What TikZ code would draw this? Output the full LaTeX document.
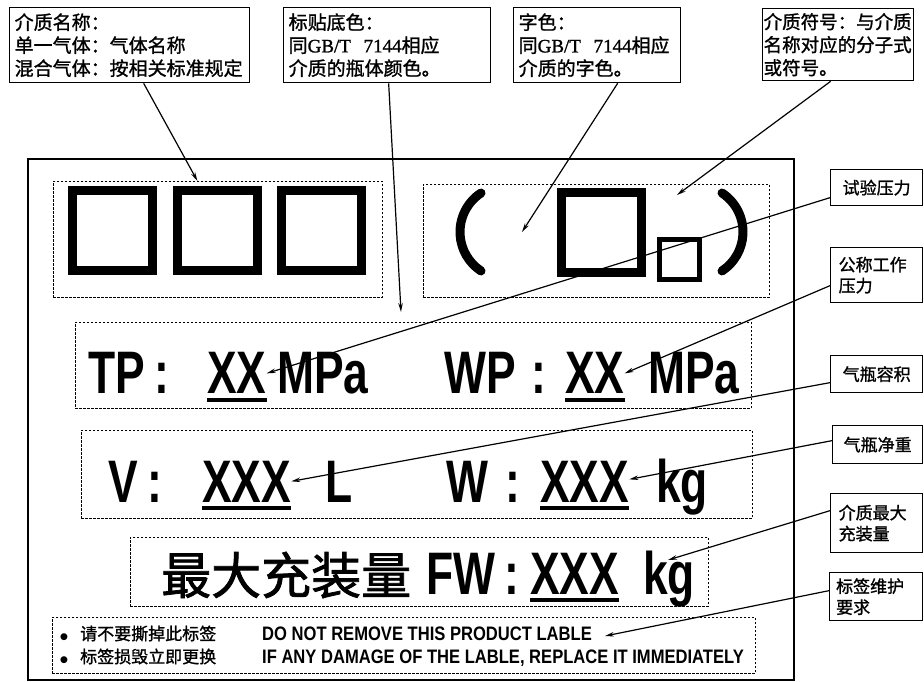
\documentclass[tikz,border=0pt]{standalone}
\usepackage{fontspec}
\setmainfont{Liberation Serif}
\newfontfamily\cjk{Noto Sans CJK SC}
\newfontfamily\cjkb[FakeBold=1.2]{Noto Sans CJK SC}
\newfontfamily\cjkbig[FakeBold=1.5]{Noto Sans CJK SC}
\newfontfamily\serifb[FakeBold=1.2]{Liberation Serif}
\newfontfamily\dejavu{DejaVu Sans}
\newfontfamily\narrow[FakeStretch=0.74]{Liberation Sans}
\newfontfamily\narrowB[FakeStretch=0.85]{Liberation Sans}
\usetikzlibrary{arrows.meta}
\tikzset{
  callout/.style={draw, line width=1.3pt, inner sep=0pt, anchor=north west, font=\cjkb\fontsize{19}{23}\selectfont, align=left},
  rcallout/.style={draw, line width=1.3pt, inner sep=0pt, anchor=north west, font=\cjkb\fontsize{17}{21}\selectfont, align=left},
  dbox/.style={draw, line width=0.9pt, dash pattern=on 2.5pt off 1.5pt, inner sep=0pt, anchor=north west},
  thicksq/.style={draw, line width=9pt, inner sep=0pt, minimum width=80pt, minimum height=80pt},
  thinsq/.style={draw, line width=5pt, inner sep=0pt, minimum width=40pt, minimum height=40pt},
  paren/.style={line width=9pt, line cap=round},
  big/.style={inner sep=0pt, anchor=base west, font=\narrow\bfseries\fontsize{60}{60}\selectfont},
  bigc/.style={inner sep=0pt, anchor=base, font=\narrow\bfseries\fontsize{60}{60}\selectfont},
  uline/.style={line width=4pt},
  small/.style={inner sep=0pt, anchor=base west, font=\cjkb\fontsize{17}{17}\selectfont},
  bul/.style={inner sep=0pt, anchor=base west, font=\dejavu\fontsize{9}{9}\selectfont},
  eng/.style={inner sep=0pt, anchor=base west, font=\narrowB\bfseries\fontsize{19.5}{19.5}\selectfont},
  arr/.style={line width=1.2pt, -{Stealth[length=9pt, width=4.5pt]}}
}
\begin{document}
\begin{tikzpicture}[x=1pt, y=-1pt]
\useasboundingbox (0,0) rectangle (924,681);

% outer label frame
\node[draw, line width=1.5pt, inner sep=0pt, minimum width=766pt, minimum height=521pt, anchor=north west] (frame) at (27,158) {};

% top callouts
\node[callout, minimum width=240pt, minimum height=75pt, text width=230pt] (c1) at (9,7)
  {介质名称：\\单一气体：气体名称\\混合气体：按相关标准规定};
\node[callout, minimum width=207pt, minimum height=75pt, text width=197pt] (c2) at (283,7)
  {标贴底色：\\同{\serifb GB/T\ \ 7144}相应\\介质的瓶体颜色。};
\node[callout, minimum width=167pt, minimum height=75pt, text width=157pt] (c3) at (513,7)
  {字色：\\同{\serifb GB/T\ \ 7144}相应\\介质的字色。};
\node[callout, minimum width=151pt, minimum height=72pt, text width=149pt, font=\cjkb\fontsize{18.5}{23}\selectfont] (c4) at (762,8)
  {介质符号：与介质\\名称对应的分子式\\或符号。};

% right callouts
\node[rcallout, minimum width=92pt, minimum height=36pt, align=center] (r1) at (830,169) {试验压力};
\node[rcallout, minimum width=92pt, minimum height=55pt, text width=76pt] (r2) at (830,247) {公称工作\\压力};
\node[rcallout, minimum width=92pt, minimum height=37pt, align=center] (r3) at (830,355) {气瓶容积};
\node[rcallout, minimum width=90pt, minimum height=38pt, align=center] (r4) at (832,425) {气瓶净重};
\node[rcallout, minimum width=92pt, minimum height=59pt, text width=76pt] (r5) at (830,493) {介质最大\\充装量};
\node[rcallout, minimum width=93pt, minimum height=48pt, text width=80pt] (r6) at (829,572) {标签维护\\要求};

% dashed boxes
\node[dbox, minimum width=329pt, minimum height=116pt] (d1) at (53,181) {};
\node[dbox, minimum width=346pt, minimum height=113pt] (d2) at (423,184) {};
\node[dbox, minimum width=676pt, minimum height=86pt] (d3) at (75,322) {};
\node[dbox, minimum width=671pt, minimum height=88pt] (d4) at (81,430) {};
\node[dbox, minimum width=578pt, minimum height=69pt] (d5) at (130,537) {};
\node[dbox, minimum width=703pt, minimum height=56pt] (d6) at (52,617) {};

% name squares
\node[thicksq] (s1) at (112,230) {};
\node[thicksq] (s2) at (217,230) {};
\node[thicksq] (s3) at (321,230) {};

% symbol
\draw[paren] (481,193) arc[start angle=236.6, end angle=123.4, radius=46.7];
\node[thicksq] (s4) at (601,232.5) {};
\node[thinsq] (s5) at (679.5,259) {};
\draw[paren] (722,193) arc[start angle=-56.6, end angle=56.6, radius=46.7];

% TP row
\node[big] (tp) at (88,393) {TP};
\node[bigc] (k1) at (162,393) {:};
\node[big] (xx1) at (207,393) {XX};
\node[big] (mpa1) at (277,393) {MPa};
\node[big] (wp) at (444,393) {WP};
\node[bigc] (k2) at (539,393) {:};
\node[big] (xx2) at (565,393) {XX};
\node[big] (mpa2) at (648,393) {MPa};
\draw[uline] ([yshift=-7pt]xx1.base west) -- ([yshift=-7pt]xx1.base east);
\draw[uline] ([yshift=-7pt]xx2.base west) -- ([yshift=-7pt]xx2.base east);

% V row
\node[big] (v) at (108,502) {V};
\node[bigc] (k3) at (155,502) {:};
\node[big] (xxx1) at (202,502) {XXX};
\node[big] (l) at (325,502) {L};
\node[big] (w) at (446,502) {W};
\node[bigc] (k4) at (513,502) {:};
\node[big] (xxx2) at (540,502) {XXX};
\node[big] (kg1) at (656,502) {kg};
\draw[uline] ([yshift=-6pt]xxx1.base west) -- ([yshift=-6pt]xxx1.base east);
\draw[uline] ([yshift=-6pt]xxx2.base west) -- ([yshift=-6pt]xxx2.base east);

% FW row
\node[inner sep=0pt, anchor=base west, font=\cjkbig\fontsize{50}{50}\selectfont] (fwc) at (161,594) {最大充装量};
\node[big] (fw) at (426,594) {FW};
\node[bigc] (k5) at (512,594) {:};
\node[big] (xxx3) at (530,594) {XXX};
\node[big] (kg2) at (643,594) {kg};
\draw[uline] ([yshift=-6pt]xxx3.base west) -- ([yshift=-6pt]xxx3.base east);

% bottom notes
\node[bul] (b1) at (60,639) {●};
\node[small] (n1) at (80,640) {请不要撕掉此标签};
\node[eng] (e1) at (262,640) {DO NOT REMOVE THIS PRODUCT LABLE};
\node[bul] (b2) at (60,662) {●};
\node[small] (n2) at (80,663) {标签损毁立即更换};
\node[eng] (e2) at (262,663) {IF ANY DAMAGE OF THE LABLE, REPLACE IT IMMEDIATELY};

% free arrow targets
\coordinate (t2) at (401,312);
\coordinate (t3) at (522,232);
\coordinate (t4) at (677,195);
\coordinate (t5) at (668,560);
\coordinate (t6) at (605,636);

% connectors
\draw[arr] ([xshift=14pt]c1.south) -- ([xshift=-20.5pt]d1.north);
\draw[arr] ([xshift=1.5pt]c2.south) -- (t2);
\draw[arr] ([xshift=20.5pt]c3.south) -- (t3);
\draw[arr] ([xshift=-7.5pt]c4.south) -- (t4);
\draw[arr] ([yshift=-10pt]r1.west) -- ([yshift=-1pt]xx1.east);
\draw[arr] ([yshift=-10.5pt]r2.west) -- ([yshift=-1pt]xx2.east);
\draw[arr] ([yshift=-8.5pt]r3.west) -- (xxx1.east);
\draw[arr] ([yshift=4pt]r4.west) -- ([yshift=2pt]xxx2.east);
\draw[arr] ([yshift=12.5pt]r5.west) -- (t5);
\draw[arr] ([yshift=6pt]r6.west) -- (t6);
\end{tikzpicture}
\end{document}
